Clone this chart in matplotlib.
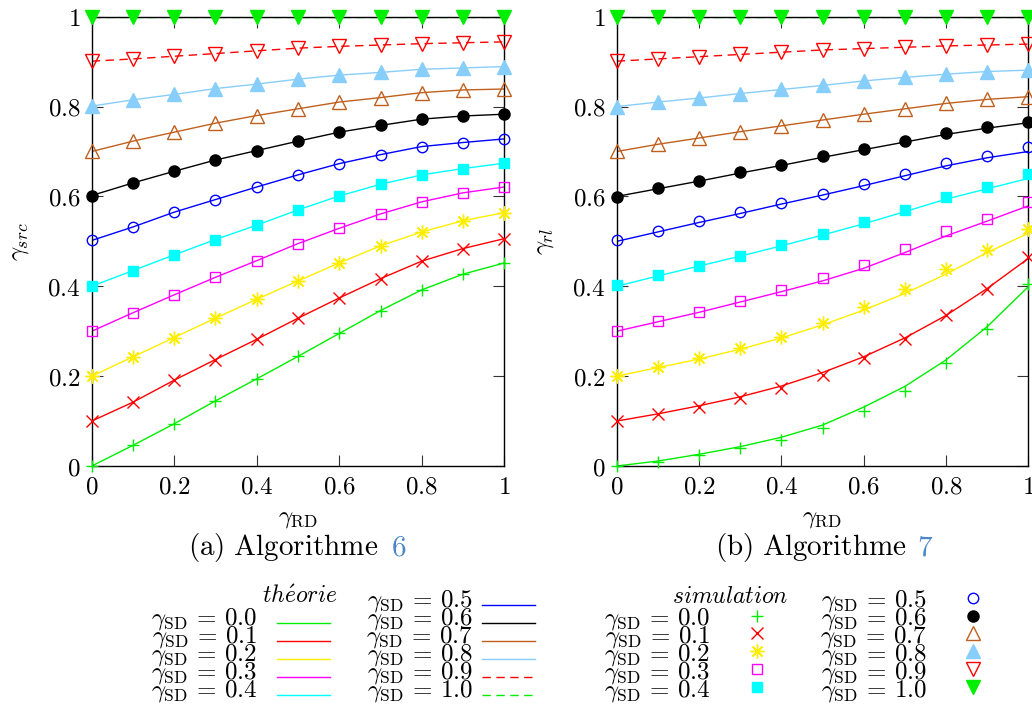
import numpy as np
import matplotlib
matplotlib.use("Agg")
import matplotlib.pyplot as plt
from matplotlib.lines import Line2D
import matplotlib.ticker as ticker

plt.rcParams['mathtext.fontset'] = 'cm'
plt.rcParams['font.family'] = 'serif'
plt.rcParams['font.serif'] = ['DejaVu Serif']

# --- data ---------------------------------------------------------------
gamma_rd = [0.0, 0.1, 0.2, 0.3, 0.4, 0.5, 0.6, 0.7, 0.8, 0.9, 1.0]
gamma_sd = ['0.0', '0.1', '0.2', '0.3', '0.4', '0.5', '0.6', '0.7', '0.8', '0.9', '1.0']
tick_vals = [0, 0.2, 0.4, 0.6, 0.8, 1]
tick_labels = ['$0$', '$0.2$', '$0.4$', '$0.6$', '$0.8$', '$1$']

# Algorithme 6 : gamma_src (theory and simulation almost identical)
alg6 = [
    [0.000, 0.046, 0.094, 0.145, 0.194, 0.244, 0.295, 0.346, 0.392, 0.427, 0.452],
    [0.100, 0.142, 0.191, 0.237, 0.282, 0.329, 0.374, 0.417, 0.456, 0.484, 0.506],
    [0.200, 0.243, 0.286, 0.329, 0.371, 0.412, 0.452, 0.490, 0.521, 0.546, 0.564],
    [0.300, 0.341, 0.381, 0.420, 0.457, 0.495, 0.529, 0.561, 0.588, 0.608, 0.621],
    [0.400, 0.435, 0.470, 0.504, 0.536, 0.570, 0.601, 0.627, 0.648, 0.662, 0.674],
    [0.502, 0.532, 0.565, 0.593, 0.621, 0.648, 0.673, 0.693, 0.711, 0.720, 0.728],
    [0.602, 0.630, 0.656, 0.681, 0.702, 0.723, 0.743, 0.758, 0.772, 0.779, 0.783],
    [0.700, 0.723, 0.743, 0.763, 0.780, 0.795, 0.810, 0.820, 0.831, 0.837, 0.839],
    [0.801, 0.815, 0.827, 0.840, 0.850, 0.861, 0.870, 0.876, 0.883, 0.886, 0.889],
    [0.901, 0.906, 0.912, 0.918, 0.924, 0.930, 0.934, 0.937, 0.940, 0.942, 0.944],
    [1.000, 1.000, 1.000, 1.000, 1.000, 1.000, 1.000, 1.000, 1.000, 1.000, 1.000],
]

# Algorithme 7 : gamma_rl
alg7_theory = [
    [0.000, 0.011, 0.026, 0.043, 0.064, 0.091, 0.131, 0.177, 0.236, 0.310, 0.399],
    [0.100, 0.116, 0.134, 0.154, 0.178, 0.208, 0.243, 0.285, 0.335, 0.395, 0.462],
    [0.200, 0.219, 0.238, 0.260, 0.285, 0.314, 0.347, 0.384, 0.427, 0.475, 0.518],
    [0.300, 0.321, 0.342, 0.365, 0.388, 0.412, 0.440, 0.475, 0.512, 0.545, 0.579],
    [0.400, 0.423, 0.445, 0.467, 0.490, 0.514, 0.539, 0.566, 0.594, 0.617, 0.640],
    [0.500, 0.521, 0.542, 0.562, 0.583, 0.603, 0.624, 0.646, 0.668, 0.686, 0.700],
    [0.600, 0.617, 0.634, 0.652, 0.669, 0.687, 0.704, 0.721, 0.738, 0.752, 0.764],
    [0.700, 0.716, 0.730, 0.744, 0.757, 0.770, 0.783, 0.795, 0.807, 0.816, 0.822],
    [0.800, 0.810, 0.819, 0.829, 0.838, 0.847, 0.857, 0.865, 0.872, 0.878, 0.881],
    [0.901, 0.906, 0.911, 0.916, 0.921, 0.926, 0.929, 0.932, 0.935, 0.937, 0.939],
    [1.000, 1.000, 1.000, 1.000, 1.000, 1.000, 1.000, 1.000, 1.000, 1.000, 1.000],
]
alg7_sim = [
    [0.000, 0.010, 0.024, 0.039, 0.058, 0.084, 0.122, 0.166, 0.229, 0.304, 0.404],
    [0.100, 0.115, 0.132, 0.151, 0.174, 0.203, 0.241, 0.282, 0.335, 0.393, 0.465],
    [0.201, 0.220, 0.240, 0.263, 0.288, 0.318, 0.354, 0.393, 0.438, 0.481, 0.527],
    [0.300, 0.322, 0.343, 0.367, 0.391, 0.418, 0.448, 0.484, 0.522, 0.550, 0.588],
    [0.403, 0.426, 0.446, 0.468, 0.491, 0.516, 0.542, 0.570, 0.599, 0.622, 0.650],
    [0.503, 0.524, 0.545, 0.565, 0.585, 0.605, 0.627, 0.651, 0.674, 0.691, 0.709],
    [0.599, 0.618, 0.635, 0.655, 0.671, 0.689, 0.706, 0.723, 0.741, 0.755, 0.766],
    [0.700, 0.716, 0.730, 0.744, 0.757, 0.770, 0.783, 0.795, 0.807, 0.816, 0.822],
    [0.800, 0.810, 0.819, 0.829, 0.838, 0.847, 0.857, 0.865, 0.872, 0.878, 0.881],
    [0.901, 0.906, 0.911, 0.916, 0.921, 0.926, 0.929, 0.932, 0.935, 0.937, 0.939],
    [1.000, 1.000, 1.000, 1.000, 1.000, 1.000, 1.000, 1.000, 1.000, 1.000, 1.000],
]

# --- styles (gnuplot-like) ----------------------------------------------
colors = ['#00ee00', '#ff0000', '#ffee00', '#ff00ff', '#00ffff', '#0000ff',
          '#000000', '#c0601e', '#87cefa', '#ff0000', '#00ee00']
markers = ['+', 'x', (8, 2, 0), 's', 's', 'o', 'o', '^', '^', 'v', 'v']
msizes = [9, 8, 10, 7, 7.5, 7.5, 8, 10, 10, 10, 10]
filled = [True, True, True, False, True, False, True, False, True, False, True]
dashed = [False] * 9 + [True, True]

W, H = 1032, 704
fig = plt.figure(figsize=(W / 100, H / 100), dpi=100)


def fx(px):
    return px / W


def fy(py):
    return 1 - py / H


def mstyle(i):
    kw = dict(marker=markers[i], markersize=msizes[i], linestyle='none',
              markeredgecolor=colors[i], markeredgewidth=1.0)
    kw['markerfacecolor'] = colors[i] if filled[i] else 'none'
    return kw


def lstyle(i):
    kw = dict(color=colors[i], linewidth=1.0)
    if dashed[i]:
        kw['dashes'] = (6, 4)
    return kw


def draw_panel(ax, theory, sim, ylabel):
    x = np.array(gamma_rd)
    for i in range(len(gamma_sd)):
        ax.plot(x, theory[i], zorder=2, **lstyle(i))
    for i in range(len(gamma_sd)):
        ax.plot(x, sim[i], zorder=4, clip_on=False, **mstyle(i))
    ax.set_xlim(0, 1)
    ax.set_ylim(0, 1)
    ax.xaxis.set_major_locator(ticker.FixedLocator(tick_vals))
    ax.yaxis.set_major_locator(ticker.FixedLocator(tick_vals))
    ax.xaxis.set_major_formatter(ticker.FixedFormatter(tick_labels))
    ax.yaxis.set_major_formatter(ticker.FixedFormatter(tick_labels))
    ax.tick_params(direction='in', length=8, width=0.8, labelsize=18,
                   top=True, right=True, color='#333333')
    ax.tick_params(axis='x', pad=7)
    ax.tick_params(axis='y', pad=8)
    for s in ax.spines.values():
        s.set_linewidth(1.0)
        s.set_zorder(3)
    ax.set_xlabel(r'$\gamma_{\mathrm{RD}}$', fontsize=18)
    ax.xaxis.set_label_coords(0.5, -0.116)
    ax.xaxis.label.set_va('center')
    ax.set_ylabel(ylabel, fontsize=18)
    ax.yaxis.set_label_coords(-0.176, 0.5)
    ax.yaxis.label.set_va('center')


ax1 = fig.add_axes([fx(91.7), fy(466), fx(504.3 - 91.7), (466 - 16.7) / H])
ax2 = fig.add_axes([fx(616.7), fy(466), fx(1028.3 - 616.7), (466 - 16.7) / H])
draw_panel(ax1, alg6, alg6, r'$\gamma_{src}$')
draw_panel(ax2, alg7_theory, alg7_sim, r'$\gamma_{rl}$')

# captions
cap = 21
fig.text(fx(378), fy(548), r'$\mathrm{(a)\ Algorithme}$', fontsize=cap, ha='right', va='center')
fig.text(fx(391), fy(548), r'$\mathrm{6}$', fontsize=cap, ha='left', va='center', color='#4a86c8')
fig.text(fx(907), fy(548), r'$\mathrm{(b)\ Algorithme}$', fontsize=cap, ha='right', va='center')
fig.text(fx(917), fy(548), r'$\mathrm{7}$', fontsize=cap, ha='left', va='center', color='#4a86c8')

# legends (gnuplot style: label on the left, key sample on the right)
lfs = 18
fig.text(fx(300), fy(603), r'$\mathit{th\acute{e}orie}$', fontsize=17, ha='center', va='baseline')
fig.text(fx(730), fy(603), r'$\mathit{simulation}$', fontsize=17, ha='center', va='baseline')

theory_rows = [623, 641, 659, 677, 695, 605, 623, 641, 659, 677, 695]
sim_rows = [616, 633, 651, 669, 687, 598, 616, 633, 651, 669, 687]
for i, g in enumerate(gamma_sd):
    lab = r'$\gamma_{\mathrm{SD}}\,=\,%s$' % g
    col2 = i >= 5
    # theory
    ty = theory_rows[i]
    xr = 473 if col2 else 257
    x0, x1 = (482, 535) if col2 else (277, 330)
    fig.text(fx(xr), fy(ty + 2), lab, fontsize=lfs, ha='right', va='baseline')
    fig.add_artist(Line2D([fx(x0), fx(x1)], [fy(ty), fy(ty)], transform=fig.transFigure, **lstyle(i)))
    # simulation
    sy = sim_rows[i]
    xr = 927 if col2 else 710
    xm = 973 if col2 else 757
    fig.text(fx(xr), fy(sy + 9), lab, fontsize=lfs, ha='right', va='baseline')
    fig.add_artist(Line2D([fx(xm)], [fy(sy)], transform=fig.transFigure, **mstyle(i)))

fig.savefig('out.png', dpi=100)
